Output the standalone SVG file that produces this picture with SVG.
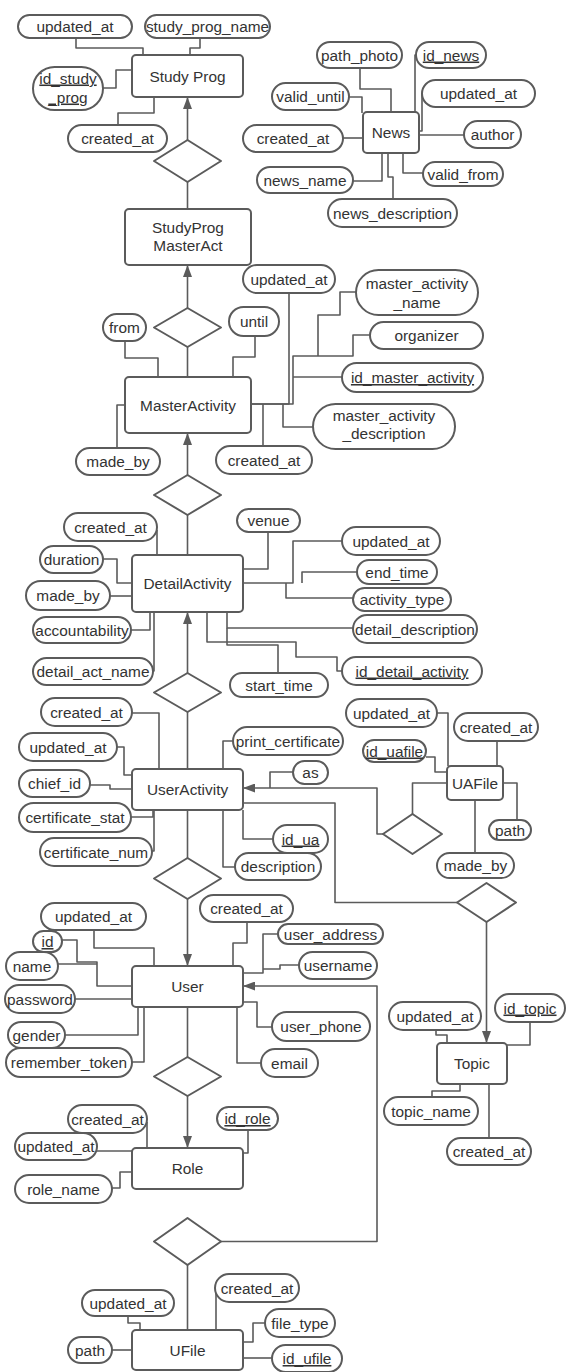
<svg xmlns="http://www.w3.org/2000/svg" width="569" height="1372" viewBox="0 0 569 1372">
<style>
.c path{fill:none;stroke:#5b5b5b;stroke-width:1.6;stroke-linejoin:round}
.c path.ar{marker-end:url(#arr)}
rect{fill:#fff;stroke:#5b5b5b;stroke-width:2}
polygon{fill:#fff;stroke:#5b5b5b;stroke-width:2;stroke-linejoin:round}
text{font-family:"Liberation Sans",Arial,sans-serif;font-size:15.4px;fill:#333;text-anchor:middle}
.u{text-decoration:underline}
</style>
<defs>
<marker id="arr" viewBox="0 0 12 9" refX="12" refY="4.5" markerWidth="12" markerHeight="9" orient="auto" markerUnits="userSpaceOnUse"><path d="M0,0 L12,4.5 L0,9 z" fill="#5b5b5b"/></marker>
</defs>
<rect x="0" y="0" width="569" height="1372" style="fill:#fff;stroke:none"/>
<g id="connectors" class="c">
<path d="M76,38 V48 H143 V55"/>
<path d="M200,38 V48 H190 V55"/>
<path d="M103,88 H116 V70 H132"/>
<path d="M118,125 V113 H154 V97"/>
<path class="ar" d="M187.5,140 V97"/>
<path d="M187.5,182 V209"/>
<path d="M360,68 V89 H391 V112"/>
<path d="M349,97 H362 V113"/>
<path d="M416,55 H415 V112"/>
<path d="M422,94 V131 H419"/>
<path d="M343,138 H363"/>
<path d="M419,135 H464"/>
<path d="M353,181 H382 V153"/>
<path d="M393,199 V177 H388 V153"/>
<path d="M423,173 H403 V153"/>
<path class="ar" d="M187.5,308 V265"/>
<path d="M187.5,347 V377"/>
<path d="M125,341 V358 H158 V377"/>
<path d="M255,336 V357 H233 V377"/>
<path d="M289,293 V404 H251"/>
<path d="M356,292 H340 V315 H318 V356"/>
<path d="M370,335 H353 V356 H293 V404 H251"/>
<path d="M342,377 H293"/>
<path d="M313,427 H283 V404"/>
<path d="M263,446 V404"/>
<path d="M117,448 V405 H125"/>
<path class="ar" d="M187.5,475 V433"/>
<path d="M187.5,515 V555"/>
<path d="M157,530 V555"/>
<path d="M103,559 H117 V583 H132"/>
<path d="M110,596 H132"/>
<path d="M131,630 H150 V612"/>
<path d="M152,671 H154 V612"/>
<path d="M268,532 V569 H243"/>
<path d="M342,541 H293 V583 H243"/>
<path d="M357,572 H302 V583"/>
<path d="M353,598 H286 V583"/>
<path d="M227,612 V628 H353"/>
<path d="M207,612 V642 H296 V657 H337 V671 H342"/>
<path d="M278,673 V645 H227 V628"/>
<path class="ar" d="M187.5,673 V612"/>
<path d="M187.5,712 V769"/>
<path d="M132,713 H159 V769"/>
<path d="M117,747 H124 V775 H132"/>
<path d="M90,785 H110 V789 H132"/>
<path d="M131,817 H153 V810"/>
<path d="M151,851 H154 V810"/>
<path d="M233,741 H223 V769"/>
<path d="M243,810 V839 H273"/>
<path d="M223,810 V867 H235"/>
<path d="M293,772 H270 V788"/>
<path class="ar" d="M383,834 H377 V788 H243"/>
<path d="M243,803 H335 V902.5 H457"/>
<path class="ar" d="M486.5,922 V1043"/>
<path d="M187.5,810 V858"/>
<path class="ar" d="M187.5,899 V966"/>
<path d="M412.5,814 V783 H447"/>
<path d="M437,713 H448 V766"/>
<path d="M497,741 V766"/>
<path d="M426,757 H435 V772 H447"/>
<path d="M503,783 H517 V820"/>
<path d="M475,800 V853"/>
<path d="M94,930 V948 H154 V966"/>
<path d="M247,922 V943 H233 V966"/>
<path d="M278,934 H263 V973 H243"/>
<path d="M299,965 H280 V969 H263"/>
<path class="ar" d="M221,1241.5 H377 V986 H243"/>
<path d="M243,1002 H257 V1027 H272"/>
<path d="M237,1007 V1063 H261"/>
<path d="M62,940 H77 V962 H97 V986 H132"/>
<path d="M58,964 H97"/>
<path d="M75,999 H132"/>
<path d="M65,1035 H138 V1007"/>
<path d="M132,1062 H144 V1007"/>
<path d="M187.5,1007 V1057"/>
<path class="ar" d="M187.5,1096 V1148"/>
<path d="M436,1030 V1035 H447 V1043"/>
<path d="M530,1022 V1045 H507"/>
<path d="M432,1097 V1091 H460 V1084"/>
<path d="M489,1084 V1138"/>
<path d="M147,1122 V1148"/>
<path d="M97,1151 H132"/>
<path d="M248,1130 V1153 H243"/>
<path d="M112,1188 H120 V1172 H132"/>
<path d="M187.5,1265 V1330"/>
<path d="M128,1316 V1323 H140 V1330"/>
<path d="M216,1290 V1330"/>
<path d="M265,1323 H253 V1342 H243"/>
<path d="M243,1358 H272"/>
<path d="M112,1350 H132"/>
</g>
<g id="rel-studyprog"><polygon points="154,161 187.5,140 221,161 187.5,182"/></g>
<g id="rel-masteract"><polygon points="154,327.5 187.5,308 221,327.5 187.5,347"/></g>
<g id="rel-detail"><polygon points="154,495 187.5,475 221,495 187.5,515"/></g>
<g id="rel-useract"><polygon points="154,692.5 187.5,673 221,692.5 187.5,712"/></g>
<g id="rel-user"><polygon points="154,878.5 187.5,858 221,878.5 187.5,899"/></g>
<g id="rel-role"><polygon points="154,1076.5 187.5,1057 221,1076.5 187.5,1096"/></g>
<g id="rel-ufile"><polygon points="154,1241.5 187.5,1218 221,1241.5 187.5,1265"/></g>
<g id="rel-uafile"><polygon points="383,834 412.5,814 442,834 412.5,854"/></g>
<g id="rel-topic"><polygon points="457,902.5 486.5,883 516,902.5 486.5,922"/></g>

<g id="studyprog"><rect x="132" y="55" width="111" height="42" rx="4"/><text x="187.5" y="81.5">Study Prog</text></g>
<g id="sp-updated_at"><rect x="18" y="15" width="114" height="23" rx="11.5"/><text x="75" y="32">updated_at</text></g>
<g id="sp-name"><rect x="145" y="15" width="125" height="23" rx="11.5"/><text x="207.5" y="32">study_prog_name</text></g>
<g id="sp-id"><rect x="33" y="67" width="70" height="43" rx="21.5"/><text class="u" x="68" y="83.5">id_study</text><text class="u" x="68" y="102.5">_prog</text></g>
<g id="sp-created_at"><rect x="68" y="125" width="99" height="27" rx="13.5"/><text x="117.5" y="144">created_at</text></g>

<g id="news"><rect x="363" y="112" width="56" height="41" rx="4"/><text x="391" y="138">News</text></g>
<g id="n-path_photo"><rect x="317" y="42" width="85" height="26" rx="13"/><text x="359.5" y="60.5">path_photo</text></g>
<g id="n-id"><rect x="416" y="42" width="70" height="26" rx="13"/><text class="u" x="451" y="60.5">id_news</text></g>
<g id="n-valid_until"><rect x="272" y="83" width="77" height="27" rx="13.5"/><text x="310.5" y="102">valid_until</text></g>
<g id="n-updated_at"><rect x="422" y="80" width="113" height="27" rx="13.5"/><text x="478.5" y="99">updated_at</text></g>
<g id="n-created_at"><rect x="243" y="125" width="100" height="27" rx="13.5"/><text x="293" y="144">created_at</text></g>
<g id="n-author"><rect x="464" y="121" width="57" height="27" rx="13.5"/><text x="492.5" y="140">author</text></g>
<g id="n-name"><rect x="257" y="167" width="96" height="26" rx="13"/><text x="305" y="185.5">news_name</text></g>
<g id="n-valid_from"><rect x="423" y="162" width="80" height="24" rx="12"/><text x="463" y="179.5">valid_from</text></g>
<g id="n-desc"><rect x="328" y="199" width="129" height="28" rx="14"/><text x="392.5" y="218.5">news_description</text></g>

<g id="studyprogmasteract"><rect x="125" y="209" width="126" height="56" rx="4"/><text x="188" y="232.5">StudyProg</text><text x="188" y="250.5">MasterAct</text></g>

<g id="masteractivity"><rect x="125" y="377" width="126" height="56" rx="4"/><text x="188" y="410.5">MasterActivity</text></g>
<g id="ma-updated_at"><rect x="243" y="265" width="92" height="28" rx="14"/><text x="289" y="284.5">updated_at</text></g>
<g id="ma-from"><rect x="103" y="314" width="43" height="27" rx="13.5"/><text x="124.5" y="333">from</text></g>
<g id="ma-until"><rect x="229" y="307" width="50" height="29" rx="14.5"/><text x="254" y="327">until</text></g>
<g id="ma-name"><rect x="356" y="270" width="122" height="45" rx="22.5"/><text x="417" y="288.5">master_activity</text><text x="417" y="307.5">_name</text></g>
<g id="ma-organizer"><rect x="370" y="322" width="113" height="27" rx="13.5"/><text x="426.5" y="341">organizer</text></g>
<g id="ma-id"><rect x="342" y="363" width="141" height="29" rx="14.5"/><text class="u" x="412.5" y="383">id_master_activity</text></g>
<g id="ma-desc"><rect x="313" y="404" width="142" height="45" rx="22.5"/><text x="384" y="420.5">master_activity</text><text x="384" y="438.5">_description</text></g>
<g id="ma-made_by"><rect x="76" y="448" width="84" height="27" rx="13.5"/><text x="118" y="467">made_by</text></g>
<g id="ma-created_at"><rect x="216" y="446" width="96" height="28" rx="14"/><text x="264" y="465.5">created_at</text></g>

<g id="detailactivity"><rect x="132" y="555" width="111" height="57" rx="4"/><text x="187.5" y="589">DetailActivity</text></g>
<g id="da-created_at"><rect x="64" y="513" width="93" height="28" rx="14"/><text x="110.5" y="532.5">created_at</text></g>
<g id="da-duration"><rect x="40" y="546" width="63" height="27" rx="13.5"/><text x="71.5" y="565">duration</text></g>
<g id="da-made_by"><rect x="26" y="581" width="84" height="29" rx="14.5"/><text x="68" y="601">made_by</text></g>
<g id="da-accountability"><rect x="33" y="617" width="98" height="26" rx="13"/><text x="82" y="635.5">accountability</text></g>
<g id="da-name"><rect x="33" y="658" width="120" height="27" rx="13.5"/><text x="93" y="677">detail_act_name</text></g>
<g id="da-venue"><rect x="237" y="509" width="63" height="23" rx="11.5"/><text x="268.5" y="526">venue</text></g>
<g id="da-updated_at"><rect x="342" y="527" width="98" height="28" rx="14"/><text x="391" y="546.5">updated_at</text></g>
<g id="da-end_time"><rect x="357" y="560" width="80" height="24" rx="12"/><text x="397" y="577.5">end_time</text></g>
<g id="da-activity_type"><rect x="353" y="588" width="98" height="23" rx="11.5"/><text x="402" y="605">activity_type</text></g>
<g id="da-desc"><rect x="353" y="615" width="124" height="28" rx="14"/><text x="415" y="634.5">detail_description</text></g>
<g id="da-id"><rect x="342" y="657" width="140" height="28" rx="14"/><text class="u" x="412" y="676.5">id_detail_activity</text></g>
<g id="da-start_time"><rect x="230" y="673" width="98" height="24" rx="12"/><text x="279" y="690.5">start_time</text></g>

<g id="useractivity"><rect x="132" y="769" width="111" height="41" rx="4"/><text x="187.5" y="794.5">UserActivity</text></g>
<g id="ua-created_at"><rect x="41" y="698" width="91" height="28" rx="14"/><text x="86.5" y="717.5">created_at</text></g>
<g id="ua-updated_at"><rect x="19" y="733" width="98" height="28" rx="14"/><text x="68" y="752.5">updated_at</text></g>
<g id="ua-chief_id"><rect x="19" y="770" width="71" height="27" rx="13.5"/><text x="54.5" y="789">chief_id</text></g>
<g id="ua-cert_stat"><rect x="19" y="803" width="112" height="29" rx="14.5"/><text x="75" y="823">certificate_stat</text></g>
<g id="ua-cert_num"><rect x="40" y="838" width="112" height="28" rx="14"/><text x="96" y="857.5">certificate_num</text></g>
<g id="ua-print"><rect x="233" y="727" width="110" height="28" rx="14"/><text x="288" y="746.5">print_certificate</text></g>
<g id="ua-as"><rect x="293" y="761" width="35" height="23" rx="11.5"/><text x="310.5" y="778">as</text></g>
<g id="ua-id"><rect x="273" y="825" width="55" height="28" rx="14"/><text class="u" x="300.5" y="844.5">id_ua</text></g>
<g id="ua-desc"><rect x="235" y="853" width="86" height="27" rx="13.5"/><text x="278" y="872">description</text></g>

<g id="uafile"><rect x="447" y="766" width="56" height="34" rx="4"/><text x="475" y="788.5">UAFile</text></g>
<g id="uf-updated_at"><rect x="346" y="699" width="91" height="28" rx="14"/><text x="391.5" y="718.5">updated_at</text></g>
<g id="uf-created_at"><rect x="454" y="713" width="84" height="28" rx="14"/><text x="496" y="732.5">created_at</text></g>
<g id="uf-id"><rect x="363" y="740" width="63" height="22" rx="11"/><text class="u" x="394.5" y="756.5">id_uafile</text></g>
<g id="uf-path"><rect x="489" y="820" width="42" height="20" rx="10"/><text x="510" y="835.5">path</text></g>
<g id="uf-made_by"><rect x="437" y="853" width="77" height="25" rx="12.5"/><text x="475.5" y="871">made_by</text></g>

<g id="user"><rect x="132" y="966" width="111" height="41" rx="4"/><text x="187.5" y="991.5">User</text></g>
<g id="u-updated_at"><rect x="41" y="903" width="105" height="27" rx="13.5"/><text x="93.5" y="922">updated_at</text></g>
<g id="u-created_at"><rect x="200" y="895" width="93" height="27" rx="13.5"/><text x="246.5" y="914">created_at</text></g>
<g id="u-id"><rect x="33" y="931" width="29" height="21" rx="10.5"/><text class="u" x="47.5" y="947">id</text></g>
<g id="u-name"><rect x="6" y="952" width="52" height="28" rx="14"/><text x="32" y="971.5">name</text></g>
<g id="u-password"><rect x="5" y="985" width="70" height="28" rx="14"/><text x="40" y="1004.5">password</text></g>
<g id="u-gender"><rect x="8" y="1022" width="57" height="26" rx="13"/><text x="36.5" y="1040.5">gender</text></g>
<g id="u-remember"><rect x="6" y="1048" width="126" height="29" rx="14.5"/><text x="69" y="1068">remember_token</text></g>
<g id="u-address"><rect x="278" y="924" width="105" height="20" rx="10"/><text x="330.5" y="939.5">user_address</text></g>
<g id="u-username"><rect x="299" y="952" width="78" height="27" rx="13.5"/><text x="338" y="971">username</text></g>
<g id="u-phone"><rect x="272" y="1012" width="98" height="29" rx="14.5"/><text x="321" y="1032">user_phone</text></g>
<g id="u-email"><rect x="261" y="1049" width="57" height="28" rx="14"/><text x="289.5" y="1068.5">email</text></g>

<g id="topic"><rect x="437" y="1043" width="70" height="41" rx="4"/><text x="472" y="1069">Topic</text></g>
<g id="t-updated_at"><rect x="389" y="1002" width="92" height="28" rx="14"/><text x="435" y="1021.5">updated_at</text></g>
<g id="t-id"><rect x="495" y="994" width="70" height="28" rx="14"/><text class="u" x="530" y="1013.5">id_topic</text></g>
<g id="t-name"><rect x="384" y="1097" width="94" height="28" rx="14"/><text x="431" y="1116.5">topic_name</text></g>
<g id="t-created_at"><rect x="447" y="1138" width="84" height="27" rx="13.5"/><text x="489" y="1157">created_at</text></g>

<g id="role"><rect x="132" y="1148" width="111" height="41" rx="4"/><text x="187.5" y="1174">Role</text></g>
<g id="r-created_at"><rect x="68" y="1105" width="79" height="28" rx="14"/><text x="107.5" y="1124.5">created_at</text></g>
<g id="r-updated_at"><rect x="15" y="1133" width="82" height="27" rx="13.5"/><text x="56" y="1152">updated_at</text></g>
<g id="r-id"><rect x="217" y="1107" width="61" height="23" rx="11.5"/><text class="u" x="247.5" y="1124">id_role</text></g>
<g id="r-name"><rect x="15" y="1175" width="97" height="28" rx="14"/><text x="63.5" y="1194.5">role_name</text></g>

<g id="ufile"><rect x="132" y="1330" width="111" height="40" rx="4"/><text x="187.5" y="1355.5">UFile</text></g>
<g id="f-updated_at"><rect x="82" y="1290" width="92" height="26" rx="13"/><text x="128" y="1308.5">updated_at</text></g>
<g id="f-created_at"><rect x="215" y="1274" width="84" height="28" rx="14"/><text x="257" y="1293.5">created_at</text></g>
<g id="f-file_type"><rect x="265" y="1309" width="70" height="28" rx="14"/><text x="300" y="1328.5">file_type</text></g>
<g id="f-id"><rect x="272" y="1345" width="70" height="27" rx="13.5"/><text class="u" x="307" y="1364">id_ufile</text></g>
<g id="f-path"><rect x="68" y="1337" width="44" height="26" rx="13"/><text x="90" y="1355.5">path</text></g>
</svg>
